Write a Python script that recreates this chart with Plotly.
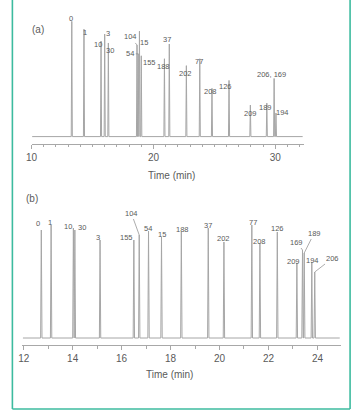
import plotly.graph_objects as go

W, H = 355, 414

# ---------------- data ----------------
# Panel (a): congener labels, retention times (min), peak heights (a.u.)
a_labels = ["0", "1", "10", "3", "30", "104", "54", "15", "155", "188", "37",
            "202", "77", "208", "126", "209", "189", "206, 169", "194"]
a_times = [13.3, 14.3, 15.7, 16.0, 16.3, 18.65, 18.75, 18.85, 19.0, 20.9, 21.3,
           22.7, 23.8, 24.8, 26.2, 27.95, 29.3, 29.9, 30.05]
a_heights = [117, 109, 97, 104, 95, 93, 84, 107, 82, 79, 94,
             72, 79, 49, 57, 32, 34, 59, 24]

# Panel (b)
b_labels = ["0", "1", "10", "30", "3", "155", "104", "54", "15", "188", "37",
            "202", "77", "208", "126", "209", "169", "189", "194", "206"]
b_times = [12.72, 13.12, 14.03, 14.09, 15.12, 16.5, 16.72, 17.1, 17.63, 18.44, 19.54,
           20.18, 21.32, 21.65, 22.36, 23.16, 23.39, 23.46, 23.77, 23.89]
b_heights = [108, 113, 110, 108, 98, 98, 103, 107, 101, 106, 110,
             96, 113, 95, 106, 75, 88, 85, 76, 66]

a_ticks = [10, 20, 30]
b_ticks = [12, 14, 16, 18, 20, 22, 24]

# ---------------- layout helpers ----------------
def px(x):
    return x / W

def py(y):
    return 1 - y / H

GREY_LINE = "#a6a6a6"
TEXT = "#5a5a5a"
FONT = "Liberation Sans"

def trace_points(times, heights, xmin, xmax, hw):
    pairs = sorted(zip(times, heights))
    xs, ys = [xmin], [0]
    for t, h in pairs:
        xs += [t - hw, t, t + hw]
        ys += [0, h, 0]
    xs.append(xmax)
    ys.append(0)
    return xs, ys

a_range = [10, 32.34]
b_range = [11.92, 24.96]

fig = go.Figure()
xa, ya = trace_points(a_times, a_heights, a_range[0] + 0.05, a_range[1] - 0.1, 0.045)
fig.add_trace(go.Scatter(x=xa, y=ya, mode="lines", line=dict(color=GREY_LINE, width=1),
                         xaxis="x", yaxis="y", hoverinfo="skip", showlegend=False))
xb, yb = trace_points(b_times, b_heights, b_range[0] + 0.05, b_range[1] - 0.05, 0.028)
fig.add_trace(go.Scatter(x=xb, y=yb, mode="lines", line=dict(color=GREY_LINE, width=1),
                         xaxis="x2", yaxis="y2", hoverinfo="skip", showlegend=False))

# label offsets (screen px, dx right, dy up) of the label centre relative to peak top
a_off = [(-1, 3), (1, -3), (-3, -3), (3, 1), (2, -8), (-7, 8), (-8, 0), (5, -11), (8, -7),
         (-1, -8), (-2, 4), (-1, -8), (-1, -3), (-1, -3), (-4, -6), (0, -8), (-1, -4), (-3, 4), (7, 0)]
a_arrow = {"104", "54"}
b_off = [(-3, 7), (-1, 3), (-5, 2), (7, 3), (-2, 3), (-7, 3), (-8, 22), (-1, 3), (0, 3), (1, 3),
         (0, 3), (0, 4), (1, 3), (0, 2), (0, 4), (-3, 2), (-6, 8), (10, 20), (1, 2), (18, 14)]
b_arrow = {"104", "169", "189", "206"}

ann = []
def add_labels(labels, times, heights, offs, arrows, xr, yr):
    for lab, t, h, (dx, dy) in zip(labels, times, heights, offs):
        if lab in arrows:
            ann.append(dict(x=t, y=h, xref=xr, yref=yr, text=lab, showarrow=True,
                            arrowhead=0, arrowwidth=0.7, arrowcolor="#888",
                            ax=dx, ay=-dy, standoff=0,
                            font=dict(size=7.5, color=TEXT, family=FONT)))
        else:
            ann.append(dict(x=t, y=h, xref=xr, yref=yr, text=lab, showarrow=False,
                            xshift=dx, yshift=dy,
                            font=dict(size=7.5, color=TEXT, family=FONT)))

add_labels(a_labels, a_times, a_heights, a_off, a_arrow, "x", "y")
add_labels(b_labels, b_times, b_heights, b_off, b_arrow, "x2", "y2")

ann += [
    dict(x=px(24), y=py(22), xref="paper", yref="paper", text="(a)", showarrow=False,
         font=dict(size=10, color=TEXT, family=FONT)),
    dict(x=px(18), y=py(198), xref="paper", yref="paper", text="(b)", showarrow=False,
         font=dict(size=10, color=TEXT, family=FONT)),
    dict(x=px(168), y=py(175), xref="paper", yref="paper", text="Time (min)", showarrow=False,
         font=dict(size=10, color=TEXT, family=FONT)),
    dict(x=px(166), y=py(382), xref="paper", yref="paper", text="Time (min)", showarrow=False,
         font=dict(size=10, color=TEXT, family=FONT)),
]

TEAL = "#3dbb9f"
shapes = [
    dict(type="line", xref="paper", yref="paper", x0=px(6.5), x1=px(6.5), y0=py(0), y1=py(409),
         line=dict(color=TEAL, width=1.6)),
    dict(type="line", xref="paper", yref="paper", x0=px(6.5), x1=px(350), y0=py(409), y1=py(409),
         line=dict(color=TEAL, width=1.6)),
    dict(type="line", xref="paper", yref="paper", x0=px(350), x1=px(350), y0=py(0), y1=py(409),
         line=dict(color=TEAL, width=1.6)),
]

axis_common = dict(showline=True, linecolor="#a8a8a8", linewidth=1, showgrid=False,
                   zeroline=False, ticks="outside", ticklen=4, tickcolor="#a8a8a8",
                   tickfont=dict(size=10, color=TEXT, family=FONT), fixedrange=True)

fig.update_layout(
    width=W, height=H, margin=dict(l=0, r=0, t=0, b=0),
    paper_bgcolor="white", plot_bgcolor="white",
    xaxis=dict(domain=[px(26), px(303)], range=a_range, anchor="y",
               tickvals=a_ticks, minor=dict(dtick=1, ticks="outside", ticklen=2.5, tickcolor="#a8a8a8"),
               **axis_common),
    yaxis=dict(domain=[py(143.5), py(8)], range=[-7, 130.5], visible=False, fixedrange=True),
    xaxis2=dict(domain=[px(16), px(340.7)], range=b_range, anchor="y2",
                tickvals=b_ticks, minor=dict(dtick=1, ticks="outside", ticklen=2.5, tickcolor="#a8a8a8"),
                **axis_common),
    yaxis2=dict(domain=[py(345), py(205)], range=[-7, 133], visible=False, fixedrange=True),
    annotations=ann, shapes=shapes,
)

fig.write_html("out.html")
